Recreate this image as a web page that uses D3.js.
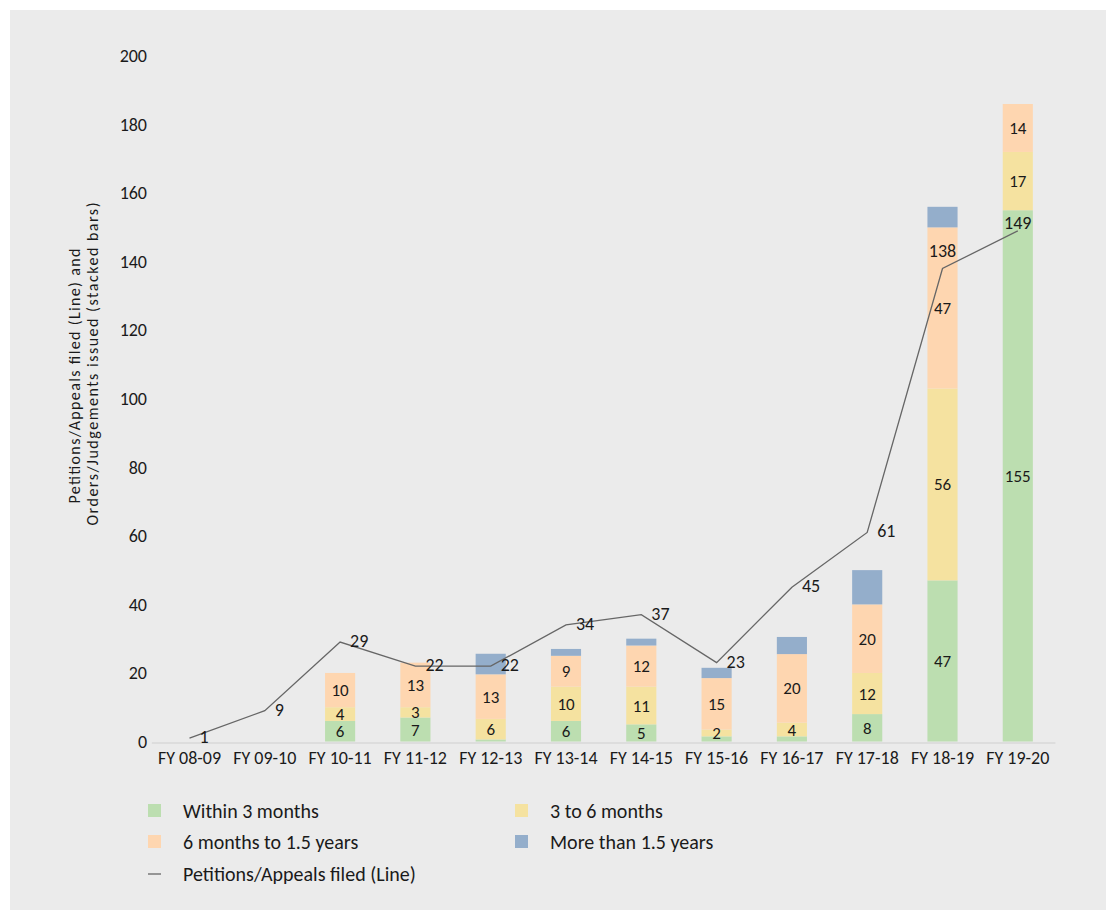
<!DOCTYPE html>
<html>
<head>
<meta charset="utf-8">
<script src="https://cdn.jsdelivr.net/npm/d3@7"></script>
<style>
  body { margin: 0; background: #ffffff; }
  svg { display: block; }
  text { font-family: Carlito, Calibri, Lato, "Open Sans", sans-serif; fill: #1a1a1a; }
</style>
</head>
<body>
<svg id="chart" width="1106" height="910"></svg>
<script>
// Financial years on the x axis
const categories = ["FY 08-09", "FY 09-10", "FY 10-11", "FY 11-12", "FY 12-13", "FY 13-14",
                    "FY 14-15", "FY 15-16", "FY 16-17", "FY 17-18", "FY 18-19", "FY 19-20"];

// Orders/Judgements issued, split by time taken (stacked bars)
const within3Months   = [0, 0, 6, 7, 0.6, 6, 5, 1.5, 1.5, 8, 47, 155];
const threeTo6Months  = [0, 0, 4, 3, 6, 10, 11, 2, 4, 12, 56, 17];
const sixMonthsTo15Y  = [0, 0, 10, 13, 13, 9, 12, 15, 20, 20, 47, 14];
const moreThan15Years = [0, 0, 0, 0, 6, 2, 2, 3, 5, 10, 6, 0];

// Petitions/Appeals filed (line)
const petitionsFiled = [1, 9, 29, 22, 22, 34, 37, 23, 45, 61, 138, 149];

// Y axis ticks
const yTicks = [0, 20, 40, 60, 80, 100, 120, 140, 160, 180, 200];

const seriesNames = ["Within 3 months", "3 to 6 months", "6 months to 1.5 years", "More than 1.5 years"];
const seriesValues = [within3Months, threeTo6Months, sixMonthsTo15Y, moreThan15Years];
const seriesColors = ["#bcdeb0", "#f5e2a0", "#fed6b0", "#94aecb"];
const lineName = "Petitions/Appeals filed (Line)";
const lineColor = "#666666";
const FONT = "Carlito, Calibri, Lato, sans-serif";

const svg = d3.select("#chart");

// panel background
svg.append("rect").attr("x", 10).attr("y", 10).attr("width", 1096).attr("height", 900)
   .attr("fill", "#ebebeb");

const x = d3.scaleBand().domain(categories).range([151.85, 1055.45])
  .paddingInner(0.6).paddingOuter(0.3);
const y = d3.scaleLinear().domain([0, 200]).range([741.5, 56]);

// build table for stacking
const table = categories.map((c, i) => {
  const row = { category: c, index: i };
  seriesNames.forEach((s, k) => row[s] = seriesValues[k][i]);
  return row;
});
const stacked = d3.stack().keys(seriesNames)(table);

// stacked bars
const layers = svg.append("g").selectAll("g").data(stacked).join("g")
  .attr("fill", (d, k) => seriesColors[k]);
layers.selectAll("rect").data(d => d).join("rect")
  .attr("x", d => x(d.data.category))
  .attr("width", x.bandwidth())
  .attr("y", d => y(d[1]))
  .attr("height", d => y(d[0]) - y(d[1]));

// segment value labels (blue segments are not labelled)
stacked.forEach((layer, k) => {
  if (k === 3) return;
  svg.append("g").selectAll("text")
    .data(layer.filter(d => seriesValues[k][d.data.index] >= 2))
    .join("text")
    .attr("x", d => x(d.data.category) + x.bandwidth() / 2)
    .attr("y", d => (y(d[0]) + y(d[1])) / 2 + 0.5)
    .attr("text-anchor", "middle")
    .attr("dominant-baseline", "central")
    .attr("font-size", 17)
    .text(d => seriesValues[k][d.data.index]);
});

// x axis baseline
svg.append("line")
  .attr("x1", 151.85).attr("x2", 1055.45)
  .attr("y1", y(0) + 1.5).attr("y2", y(0) + 1.5)
  .attr("stroke", "#cfcfcf").attr("stroke-width", 1);

// x axis labels
const xAxis = d3.axisBottom(x).tickSize(0).tickPadding(8);
const gx = svg.append("g").attr("transform", `translate(0,${y(0) + 1.5})`).call(xAxis);
gx.select(".domain").remove();
gx.selectAll("text").attr("font-size", 18).attr("fill", "#1a1a1a")
  .style("font-family", FONT);

// y axis labels
const yAxis = d3.axisLeft(y).tickValues(yTicks).tickSize(0).tickPadding(0);
const gy = svg.append("g").attr("transform", "translate(147,0)").call(yAxis);
gy.select(".domain").remove();
gy.selectAll("text").attr("font-size", 18).attr("fill", "#1a1a1a")
  .style("font-family", FONT);

// y axis title
const yTitle = svg.append("text")
  .attr("transform", "rotate(-90)")
  .attr("font-size", 16);
yTitle.append("tspan").attr("x", -376).attr("y", 80).attr("text-anchor", "middle")
  .attr("textLength", 255).attr("lengthAdjust", "spacing")
  .text("Petitions/Appeals filed (Line) and");
yTitle.append("tspan").attr("x", -364).attr("y", 98).attr("text-anchor", "middle")
  .attr("textLength", 323).attr("lengthAdjust", "spacing")
  .text("Orders/Judgements issued (stacked bars)");

// petitions line
const cx = c => x(c) + x.bandwidth() / 2;
const linePts = categories.map((c, i) => [cx(c), y(petitionsFiled[i])]);
svg.append("path")
  .attr("d", d3.line()(linePts))
  .attr("fill", "none").attr("stroke", lineColor).attr("stroke-width", 1.3);

// line value labels: to the right of each point, or above it where the line runs through a tall bar
const labelAbove = { "FY 18-19": 18, "FY 19-20": 8 };
svg.append("g").selectAll("text").data(categories).join("text")
  .attr("x", (c, i) => labelAbove[c] !== undefined ? linePts[i][0] : linePts[i][0] + 10)
  .attr("y", (c, i) => labelAbove[c] !== undefined ? linePts[i][1] - labelAbove[c] : linePts[i][1] - 1)
  .attr("text-anchor", c => labelAbove[c] !== undefined ? "middle" : "start")
  .attr("dominant-baseline", "central")
  .attr("font-size", 18)
  .text((c, i) => petitionsFiled[i]);

// legend
const legendItems = [
  { name: seriesNames[0], color: seriesColors[0], col: 0, row: 0 },
  { name: seriesNames[1], color: seriesColors[1], col: 1, row: 0 },
  { name: seriesNames[2], color: seriesColors[2], col: 0, row: 1 },
  { name: seriesNames[3], color: seriesColors[3], col: 1, row: 1 },
  { name: lineName, color: lineColor, col: 0, row: 2, line: true }
];
const colX = [148, 515];
const rowY = [811, 842, 874];
const lg = svg.append("g").selectAll("g").data(legendItems).join("g")
  .attr("transform", d => `translate(${colX[d.col]},${rowY[d.row]})`);
lg.filter(d => !d.line).append("rect")
  .attr("x", 0).attr("y", -7).attr("width", 13).attr("height", 13)
  .attr("fill", d => d.color);
lg.filter(d => d.line).append("line")
  .attr("x1", 0).attr("x2", 13).attr("y1", 0).attr("y2", 0)
  .attr("stroke", d => d.color).attr("stroke-width", 1.3);
lg.append("text")
  .attr("x", 35).attr("y", 0)
  .attr("dominant-baseline", "central")
  .attr("font-size", 20)
  .text(d => d.name);
</script>
</body>
</html>
